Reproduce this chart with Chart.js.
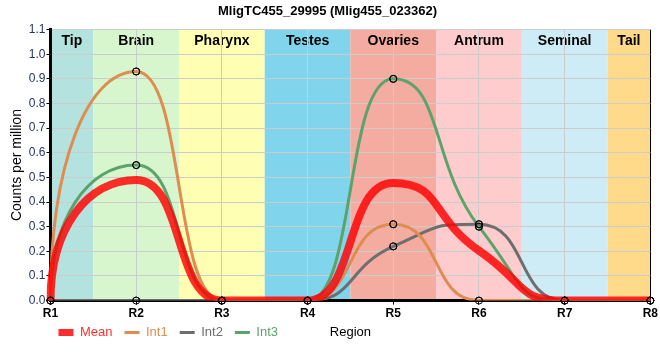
<!DOCTYPE html>
<html>
<head>
<meta charset="utf-8">
<script src="https://cdn.jsdelivr.net/npm/chart.js@4.4.1/dist/chart.umd.min.js"></script>
<style>
  body { margin: 0; background: #fff; }
  #wrap { width: 660px; height: 360px; }
</style>
</head>
<body>
<div id="wrap"><canvas id="regionChart"></canvas></div>
<script>
const categories = ['R1', 'R2', 'R3', 'R4', 'R5', 'R6', 'R7', 'R8'];
const regions = ['Tip', 'Brain', 'Pharynx', 'Testes', 'Ovaries', 'Antrum', 'Seminal', 'Tail'];
const regionColors = ['#b4e2de', '#d8f6ce', '#ffffb4', '#80d4ec', '#f5aca0', '#ffccce', '#ceecf6', '#ffda8a'];

const mean = [0, 0.49, 0, 0, 0.477, 0.203, 0, 0];
const int1 = [0, 0.93, 0, 0, 0.31, 0, 0, 0];
const int2 = [0, 0, 0, 0, 0.22, 0.31, 0, 0];
const int3 = [0, 0.55, 0, 0, 0.90, 0.30, 0, 0];

Chart.defaults.font.family = "'Liberation Sans', Arial, sans-serif";
Chart.defaults.color = '#000';

// coloured bands behind the plot, one per body region, with its name on top
const regionBands = {
  id: 'regionBands',
  afterLayout(chart) {
    // legend row sits right under the tick labels in the original
    const lg = chart.legend;
    lg.top -= 9; lg.bottom -= 9;
    lg.left -= 4; lg.right -= 4;
  },
  beforeDraw(chart) {
    const {ctx, chartArea: a, scales: {x}} = chart;
    ctx.save();
    regions.forEach((name, i) => {
      const l = Math.max(a.left, x.getPixelForValue(i - 0.5));
      const r = Math.min(a.right, x.getPixelForValue(i + 0.5));
      ctx.fillStyle = regionColors[i];
      ctx.fillRect(l, a.top, r - l, a.bottom - a.top);
      ctx.fillStyle = '#000';
      ctx.font = "bold 14px 'Liberation Sans', Arial, sans-serif";
      ctx.textAlign = 'center';
      ctx.textBaseline = 'middle';
      ctx.fillText(name, (l + r) / 2, a.top + 12);
    });
    ctx.restore();
  },
  afterDatasetsDraw(chart) {
    // markers go on top of every line, like the original
    chart.getSortedVisibleDatasetMetas().forEach(meta => {
      meta.data.forEach(p => p.draw(chart.ctx, chart.chartArea));
    });
  },
  afterDraw(chart) {
    // x axis title is drawn on the legend row
    const {ctx, chartArea: a, legend} = chart;
    const box = legend.legendHitBoxes[0];
    ctx.save();
    ctx.fillStyle = '#000';
    ctx.font = "13px 'Liberation Sans', Arial, sans-serif";
    ctx.textAlign = 'center';
    ctx.textBaseline = 'middle';
    ctx.fillText('Region', (a.left + a.right) / 2, box.top + box.height / 2);
    ctx.restore();
  }
};

// longer spline handles give the steeper S-curves of the original
const HANDLE = 1.7;
const steeperCurves = {
  id: 'steeperCurves',
  beforeDatasetsDraw(chart) {
    chart.getSortedVisibleDatasetMetas().forEach(meta => {
      const line = meta.dataset;
      const pts = meta.data;
      line._pointsUpdated = false;
      line.updateControlPoints(chart.chartArea, 'x');
      pts.forEach(p => {
        p.cp1x = p.x + (p.cp1x - p.x) * HANDLE;
        p.cp1y = p.y + (p.cp1y - p.y) * HANDLE;
        p.cp2x = p.x + (p.cp2x - p.x) * HANDLE;
        p.cp2y = p.y + (p.cp2y - p.y) * HANDLE;
      });
      pts[0].cp2x = pts[0].x;
      pts[0].cp2y = pts[0].y + (pts[1].y - pts[0].y) * 0.6;
      line._path = undefined;
    });
  }
};

const intLine = (label, data, color) => ({
  label: label,
  data: data,
  borderColor: color,
  backgroundColor: color,
  borderWidth: 3,
  pointRadius: 3.5,
  pointBorderWidth: 1,
  pointBorderColor: '#000',
  pointBackgroundColor: 'rgba(0,0,0,0)'
});

new Chart(document.getElementById('regionChart'), {
  type: 'line',
  data: {
    labels: categories,
    datasets: [
      {
        label: 'Mean',
        data: mean,
        borderColor: 'rgba(255, 0, 0, 0.82)',
        backgroundColor: 'rgba(255, 0, 0, 0.82)',
        borderWidth: 8,
        pointRadius: 0
      },
      intLine('Int1', int1, '#de8c50'),
      intLine('Int2', int2, '#6e6e6e'),
      intLine('Int3', int3, '#5ba36b')
    ]
  },
  options: {
    responsive: true,
    maintainAspectRatio: false,
    animation: false,
    events: [],
    layout: { padding: { left: 3, right: 8, bottom: 2 } },
    elements: { line: { cubicInterpolationMode: 'monotone' } },
    scales: {
      x: {
        grid: {
          color: c => c.index === categories.length - 1 ? '#000' : '#cccccc',
          tickColor: '#000',
          tickLength: 4
        },
        border: { color: '#000', width: 3 },
        ticks: { font: { size: 12, weight: 'bold' }, color: '#000', padding: 2 }
      },
      y: {
        min: 0,
        max: 1.1,
        grid: { color: '#cccccc', tickColor: '#000', tickLength: 4 },
        border: { color: '#000', width: 3 },
        ticks: {
          stepSize: 0.1,
          padding: 1,
          color: '#24365e',
          font: { size: 12 },
          callback: v => v.toFixed(1)
        },
        title: {
          display: true,
          text: 'Counts per million',
          font: { size: 14 },
          color: '#000',
          padding: { top: 6, bottom: 2 }
        }
      }
    },
    plugins: {
      title: {
        display: true,
        text: 'MligTC455_29995 (Mlig455_023362)',
        font: { size: 13, weight: 'bold' },
        color: '#000',
        padding: { top: 4, bottom: 10 }
      },
      legend: {
        position: 'bottom',
        align: 'start',
        fullSize: false,
        labels: {
          usePointStyle: true,
          pointStyleWidth: 15,
          boxHeight: 8,
          padding: 12,
          font: { size: 13 },
          generateLabels: chart => chart.data.datasets.map((ds, i) => ({
            text: ds.label,
            fillStyle: ds.borderColor,
            strokeStyle: ds.borderColor,
            fontColor: ds.borderColor,
            lineWidth: i === 0 ? 7 : 3,
            pointStyle: 'line',
            hidden: false,
            datasetIndex: i
          }))
        }
      },
      tooltip: { enabled: false }
    }
  },
  plugins: [regionBands, steeperCurves]
});
</script>
</body>
</html>
